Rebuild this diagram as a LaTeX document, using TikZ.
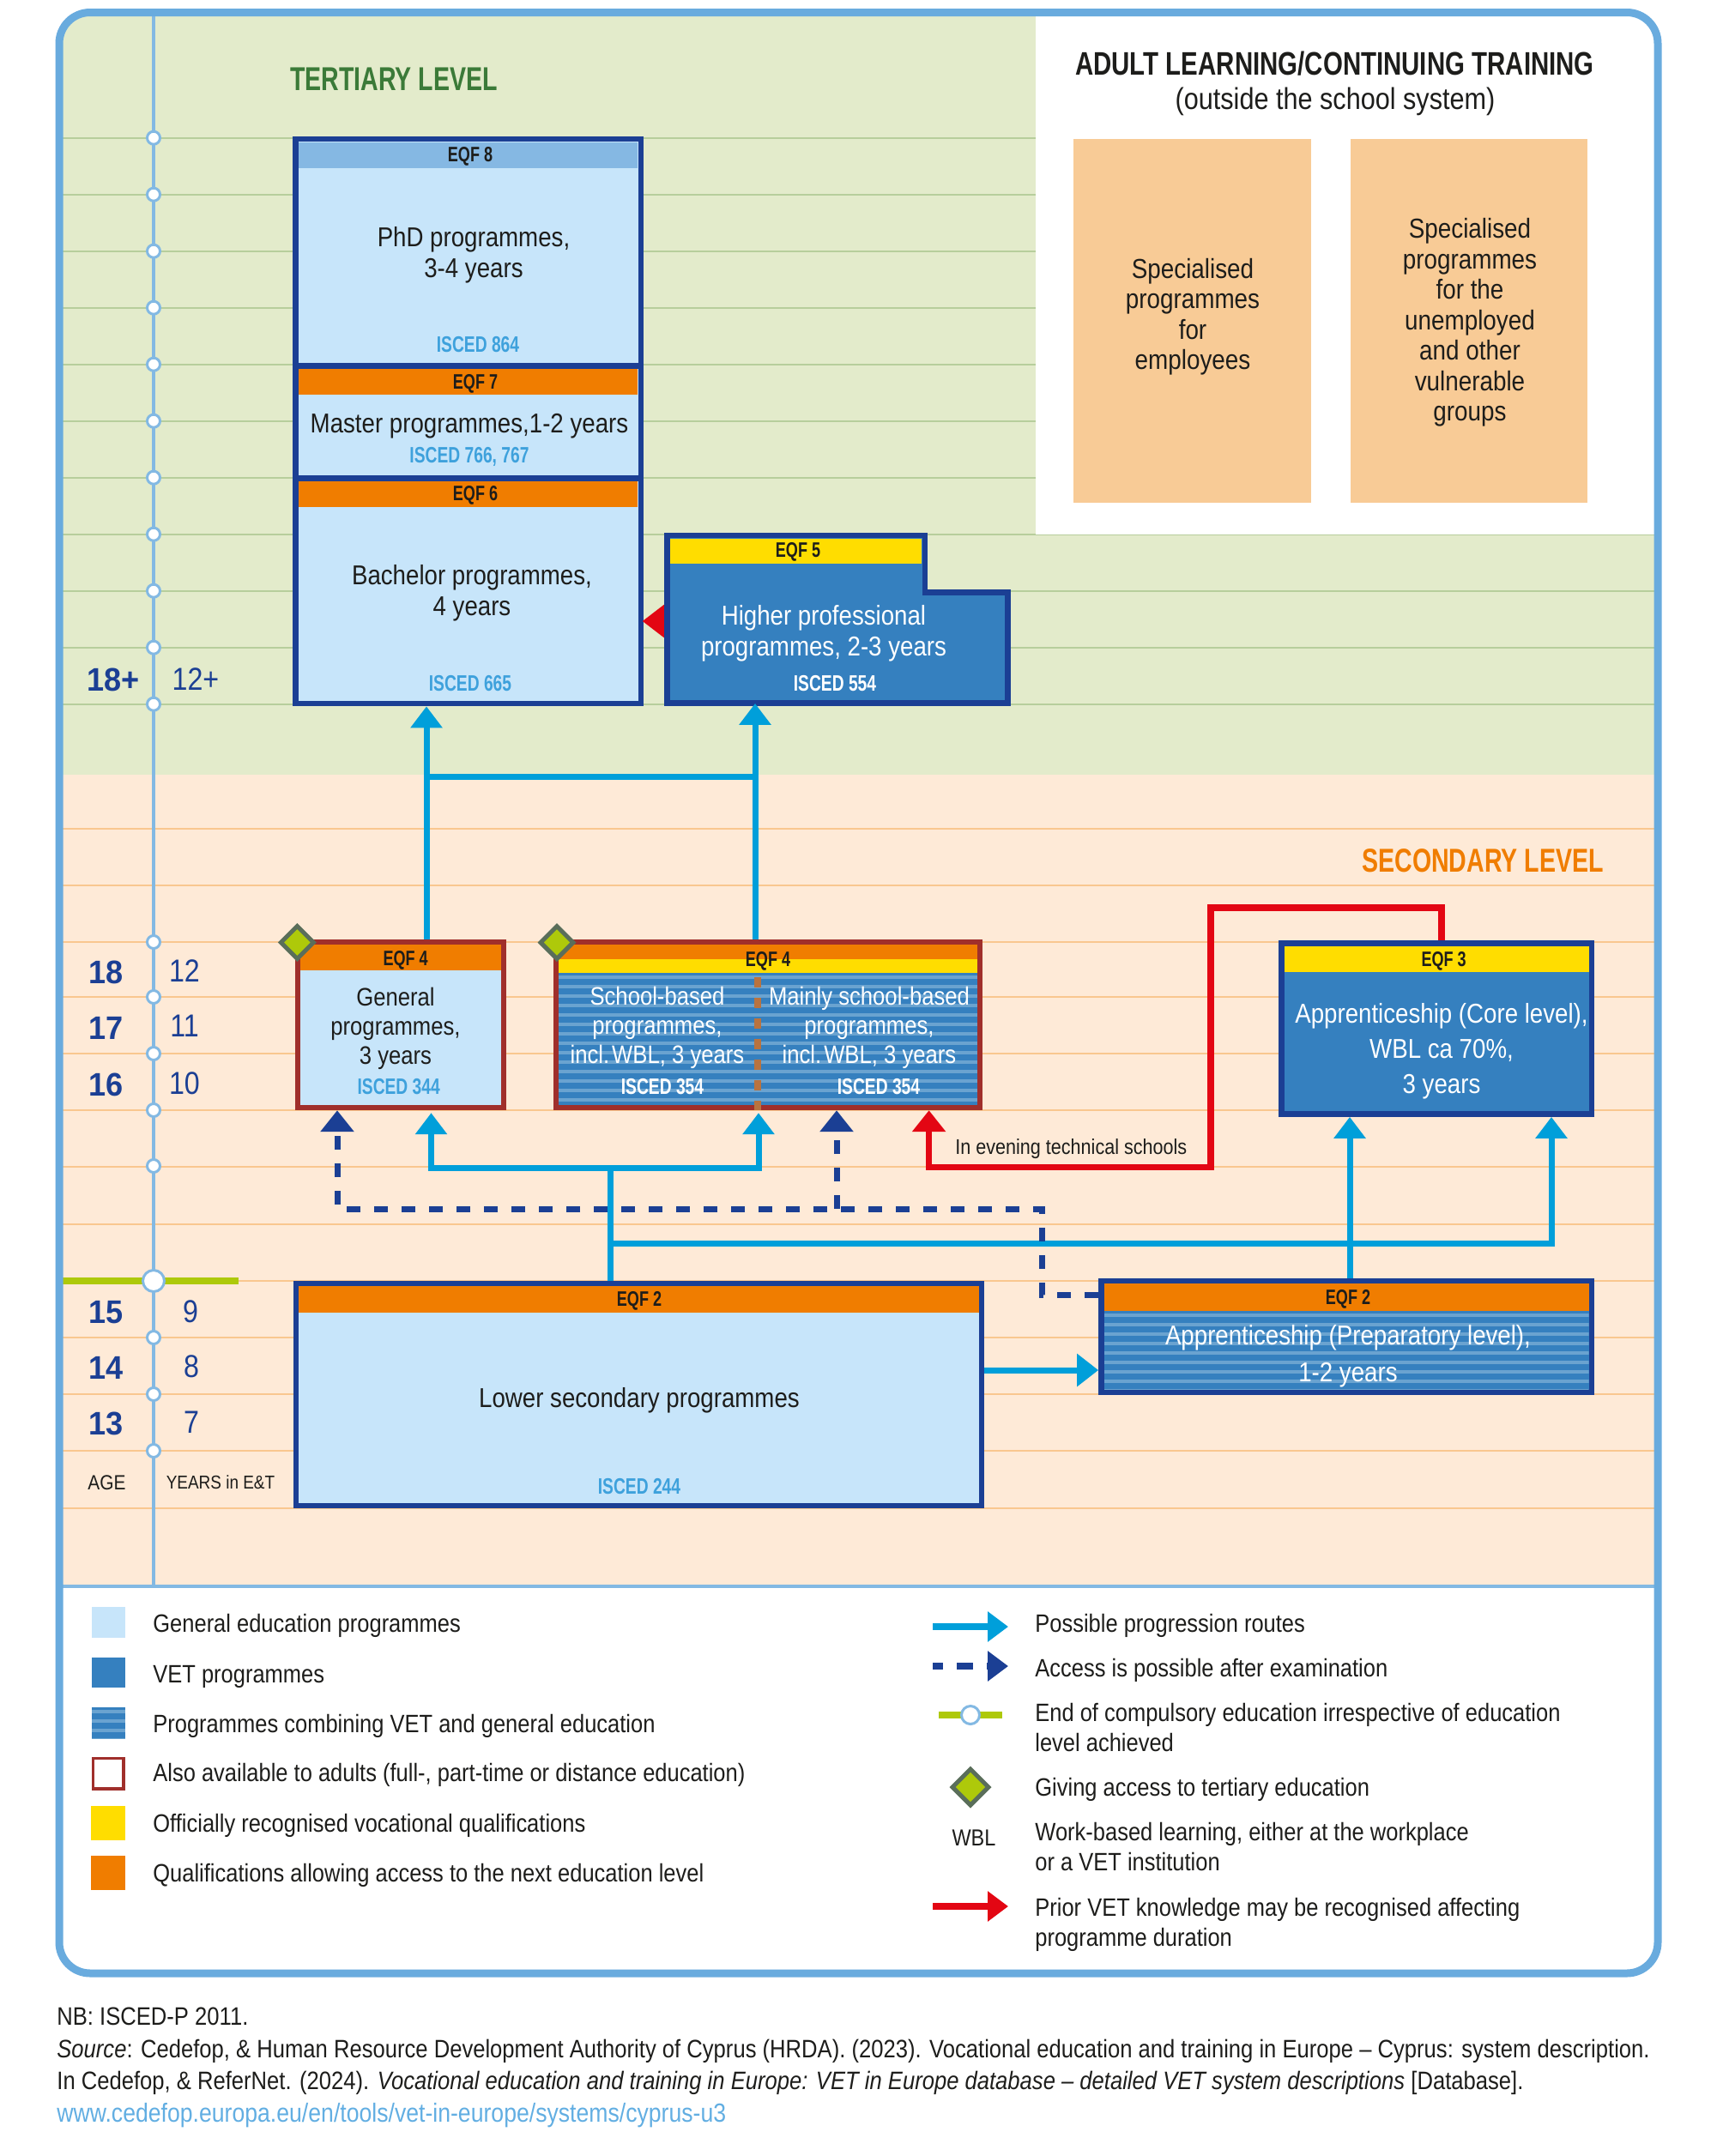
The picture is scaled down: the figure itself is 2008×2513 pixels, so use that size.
\documentclass[tikz,border=0pt]{standalone}
\usepackage{fontspec}
\setmainfont{Liberation Sans}[FakeStretch=0.87,BoldFeatures={FakeStretch=0.74},ItalicFeatures={FakeStretch=0.87}]
\newfontfamily\agefont{Liberation Sans}[FakeStretch=0.95,BoldFeatures={FakeStretch=0.95}]
\newfontfamily\titlefont{Liberation Sans}[FakeStretch=0.775,BoldFeatures={FakeStretch=0.775}]
\usetikzlibrary{arrows.meta,shapes.geometric,calc}
\definecolor{framec}{HTML}{69ABDE}
\definecolor{timec}{HTML}{83B9E3}
\definecolor{greenbg}{HTML}{E3EBCB}
\definecolor{orangebg}{HTML}{FEEAD7}
\definecolor{greenln}{HTML}{B7CE9C}
\definecolor{orangeln}{HTML}{F9C78F}
\definecolor{genc}{HTML}{C7E5FA}
\definecolor{vetc}{HTML}{3580BF}
\definecolor{stripec}{HTML}{6AA3D0}
\definecolor{navy}{HTML}{1B3F94}
\definecolor{yellowc}{HTML}{FFDD00}
\definecolor{orangec}{HTML}{F07D00}
\definecolor{eqfeight}{HTML}{85B8E3}
\definecolor{brownc}{HTML}{A02F2B}
\definecolor{iscedc}{HTML}{3EA1DC}
\definecolor{ink}{HTML}{1D1D1B}
\definecolor{routec}{HTML}{009FDA}
\definecolor{redc}{HTML}{E30613}
\definecolor{limec}{HTML}{AEC90A}
\definecolor{dgreen}{HTML}{5A6E5A}
\definecolor{adultc}{HTML}{F8CB96}
\definecolor{tertc}{HTML}{3B7A38}
\definecolor{linkc}{HTML}{62AEE2}
\definecolor{dashbr}{HTML}{B9733F}
\tikzset{
  x=0.5pt,y=-0.5pt,
  navybox/.style={draw=navy,line width=3.4pt,fill=genc},
  navyvet/.style={draw=navy,line width=3.4pt,fill=vetc},
  brownbox/.style={draw=brownc,line width=3.2pt,fill=genc},
  brownvet/.style={draw=brownc,line width=3.2pt,fill=vetc},
  hidden/.style={},
  mainT/.style={font=\fontsize{15.9}{18}\selectfont,text=ink,align=center,inner sep=0pt},
  whiteT/.style={font=\fontsize{15.9}{18}\selectfont,text=white,align=center,inner sep=0pt},
  schoolT/.style={font=\fontsize{14.75}{17}\selectfont,text=white,align=center,inner sep=0pt},
  genT/.style={font=\fontsize{14.75}{17}\selectfont,text=ink,align=center,inner sep=0pt},
  eqfT/.style={font=\fontsize{12.2}{14}\selectfont\bfseries,text=ink,inner sep=0pt},
  iscedT/.style={font=\fontsize{13}{14}\selectfont\bfseries,text=iscedc,inner sep=0pt},
  iscedW/.style={font=\fontsize{13}{14}\selectfont\bfseries,text=white,inner sep=0pt},
  levelT/.style={font=\fontsize{19.3}{22}\selectfont\bfseries,inner sep=0pt},
  ageT/.style={font=\fontsize{19}{22}\agefont\selectfont\bfseries,text=navy,inner sep=0pt},
  yearT/.style={font=\fontsize{18.5}{22}\selectfont,text=navy,inner sep=0pt},
  legT/.style={font=\fontsize{14.65}{16}\selectfont,text=ink,inner sep=0pt,anchor=base west},
  footT/.style={font=\fontsize{14.72}{17}\selectfont,text=ink,inner sep=0pt,anchor=base west},
  tick/.style={circle,draw=timec,fill=white,line width=1.5pt,minimum size=7.5pt,inner sep=0pt},
  gem/.style={diamond,draw=dgreen,fill=limec,line width=2.5pt,inner sep=0pt,minimum width=20pt,minimum height=20pt,aspect=1},
  route/.style={draw=routec,line width=3.5pt,-{Triangle[length=12.5pt,width=18pt]}},
  routeplain/.style={draw=routec,line width=3.5pt},
  examr/.style={draw=navy,line width=3.5pt,dash pattern=on 8pt off 8pt,-{Triangle[length=12.5pt,width=19pt]}},
  redr/.style={draw=redc,line width=3.8pt,-{Triangle[length=12.5pt,width=19pt]}},
}
\newcommand\bx[6]{%
  \pgfmathsetmacro\cxx{(#2+#4)/2}\pgfmathsetmacro\cyy{(#3+#5)/2}%
  \pgfmathsetmacro\www{(#4-#2)/2}\pgfmathsetmacro\hhh{(#5-#3)/2}%
  \node[#6,minimum width=\www pt,minimum height=\hhh pt,inner sep=0pt] (#1) at (\cxx,\cyy) {};}
\newcommand\stripes[4]{%
  \begin{scope}
    \clip (#1,#2) rectangle (#3,#4);
    \foreach \yy in {0,11,...,220} {\fill[stripec] (#1,#2+\yy+3) rectangle (#3,#2+\yy+7);}
  \end{scope}}
\begin{document}
\begin{tikzpicture}
\useasboundingbox (0,0) rectangle (2008,2513);
% ---------- background panels
\begin{scope}
  \clip[rounded corners=18pt] (69,14.5) rectangle (1932,2300);
  \fill[greenbg] (69,14.5) rectangle (1932,903);
  \fill[orangebg] (69,903) rectangle (1932,1849);
  \fill[white] (69,1849) rectangle (1932,2300);
  \foreach \yy in {160.7,226.7,292.7,358.7,424.7,490.7,556.7,622.7,688.7,754.7,820.7}
    \draw[greenln,line width=1pt] (69,\yy) -- (1932,\yy);
  \foreach \yy in {966,1032,1098,1162,1228,1294,1360,1427,1493,1559,1625,1691,1758}
    \draw[orangeln,line width=1pt] (69,\yy) -- (1932,\yy);
  \fill[white] (1207,10) rectangle (1932,623);
  \draw[timec,line width=2pt] (179,14.5) -- (179,1849);
  \draw[limec,line width=4pt] (69,1493) -- (278,1493);
\end{scope}
\foreach \yy [count=\i] in {160.7,226.7,292.7,358.7,424.7,490.7,556.7,622.7,688.7,754.7,820.7,1098,1162,1228,1294,1359,1559,1625,1691}
  \node[tick] (tick\i) at (179,\yy) {};
\node[tick,minimum size=12.5pt] (tickbig) at (179,1493) {};
\draw[draw=timec,line width=2.2pt] (69,1849) -- (1932,1849);
\draw[framec,line width=4.5pt,rounded corners=18pt] (69,14.5) rectangle (1932,2300);
% ---------- adult box
\node[font=\fontsize{19}{22}\titlefont\selectfont\bfseries,text=ink,inner sep=0pt] (adult) at (1555.5,74) {ADULT LEARNING/CONTINUING TRAINING};
\node[font=\fontsize{17.6}{19}\selectfont,text=ink,inner sep=0pt] (adultsub) at (1556,118) {(outside the school system)};
\bx{emp}{1251}{161.6}{1528}{586}{fill=adultc}
\bx{unemp}{1574}{161.6}{1850}{586}{fill=adultc}
\node[font=\fontsize{16}{17.75}\selectfont,text=ink,align=center,inner sep=0pt] (emptxt) at (1390,369) {Specialised\\programmes\\for\\employees};
\node[font=\fontsize{16}{17.75}\selectfont,text=ink,align=center,inner sep=0pt] (unemptxt) at (1713,376) {Specialised\\programmes\\for the\\unemployed\\and other\\vulnerable\\groups};
% ---------- level labels
\node[levelT,text=tertc] (tert) at (459,92.6) {TERTIARY LEVEL};
\node[levelT,text=orangec] (sec) at (1728,1003.5) {SECONDARY LEVEL};
% ---------- ages
\node[ageT] (a18p) at (132,792) {18+};
\node[yearT] (y12p) at (228,792) {12+};
\node[ageT] (a18) at (124,1133) {18};
\node[ageT] (a17) at (124,1198) {17};
\node[ageT] (a16) at (124,1264) {16};
\node[ageT] (a15) at (124,1530) {15};
\node[ageT] (a14) at (124,1594) {14};
\node[ageT] (a13) at (124,1659) {13};
\node[yearT] (y12) at (215,1132) {12};
\node[yearT] (y11) at (215,1196) {11};
\node[yearT] (y10) at (215,1263) {10};
\node[yearT] (y9) at (222,1529) {9};
\node[yearT] (y8) at (223,1593) {8};
\node[yearT] (y7) at (223,1658) {7};
\node[font=\fontsize{12}{14}\selectfont,text=ink,inner sep=0pt] (agelab) at (124.5,1728) {AGE};
\node[font=\fontsize{10.9}{14}\selectfont,text=ink,inner sep=0pt] (yearlab) at (257,1728) {YEARS in E\&T};
% ---------- tertiary stack
\bx{phd}{344.5}{162}{747}{426.5}{navybox}
\bx{master}{344.5}{426.5}{747}{557.5}{navybox}
\bx{bachelor}{344.5}{557.5}{747}{820}{navybox}
\fill[eqfeight] (348.2,165.7) rectangle (743.3,196);
\fill[orangec] (348.2,430.2) rectangle (743.3,460);
\fill[orangec] (348.2,561.2) rectangle (743.3,591);
\node[eqfT] (eqf8) at (548,182.5) {EQF 8};
\node[mainT] (phdt) at (552,297) {PhD programmes,\\3-4 years};
\node[iscedT] (is864) at (557,402) {ISCED 864};
\node[eqfT] (eqf7) at (554,447.5) {EQF 7};
\node[mainT] (mastert) at (547,497) {Master programmes,1-2 years};
\node[iscedT] (is766) at (547,532) {ISCED 766, 767};
\node[eqfT] (eqf6) at (554,577.5) {EQF 6};
\node[mainT] (bacht) at (550,691) {Bachelor programmes,\\4 years};
\node[iscedT] (is665) at (548,797) {ISCED 665};
% ---------- EQF5
\bx{higher}{777.5}{624}{1174.5}{819.5}{hidden}
\coordinate (rr) at (0,724);
\draw[draw=redc,line width=1pt,-{Triangle[length=12.5pt,width=19pt]},shorten >=-0.8pt] (higher.center |- rr) -- (bachelor.east |- rr);
\filldraw[draw=navy,fill=vetc,line width=3.4pt] (777.5,624) -- (1078,624) -- (1078,690.5) -- (1174.5,690.5) -- (1174.5,819.5) -- (777.5,819.5) -- cycle;
\fill[yellowc] (781.2,627.7) rectangle (1074.3,657);
\node[eqfT] (eqf5) at (930,643) {EQF 5};
\node[whiteT] (hight) at (960,738.5) {Higher professional\\programmes, 2-3 years};
\node[iscedW] (is554) at (973,797) {ISCED 554};
% ---------- General
\bx{general}{347}{1098}{587}{1291}{brownbox}
\fill[orangec] (350.2,1101.2) rectangle (583.8,1131);
\node[eqfT] (eqf4a) at (472.7,1119) {EQF 4};
\node[genT] (gent) at (461,1199) {General\\programmes,\\3 years};
\node[iscedT] (is344) at (464.7,1267) {ISCED 344};
% ---------- School
\bx{school}{648}{1098}{1142}{1291}{brownvet}
\stripes{651.2}{1134}{1138.8}{1287.8}
\fill[orangec] (651.2,1101.2) rectangle (1138.8,1118);
\fill[yellowc] (651.2,1118) rectangle (1138.8,1134);
\draw[dashbr,line width=4pt,dash pattern=on 6pt off 6pt] (882.6,1139) -- (882.6,1294);
\node[eqfT] (eqf4b) at (895,1120) {EQF 4};
\node[schoolT] (schoolt) at (766,1198) {School-based\\programmes,\\incl.\hspace{0.1em}WBL, 3 years};
\node[iscedW] (is354a) at (772,1267) {ISCED 354};
\node[schoolT] (mainlyt) at (1013,1198) {Mainly school-based\\programmes,\\incl.\hspace{0.1em}WBL, 3 years};
\node[iscedW] (is354b) at (1024,1267) {ISCED 354};
\node[gem] (gema) at (346.4,1098.5) {};
\node[gem] (gemb) at (649,1098.5) {};
% ---------- Core apprenticeship
\bx{core}{1493.5}{1099.5}{1855}{1298.5}{navyvet}
\fill[yellowc] (1496.9,1103) rectangle (1851.6,1133);
\node[eqfT] (eqf3) at (1682.6,1120) {EQF 3};
\node[whiteT,font=\fontsize{15.9}{20.5}\selectfont] (coret) at (1680,1225) {Apprenticeship (Core level),\\WBL ca 70\%,\\3 years};
% ---------- Lower secondary
\bx{lower}{345}{1496}{1144}{1755}{navybox}
\fill[orangec] (348.4,1499.4) rectangle (1140.6,1529.6);
\node[eqfT] (eqf2a) at (745,1516) {EQF 2};
\node[mainT] (lowert) at (745,1632) {Lower secondary programmes};
\node[iscedT] (is244) at (745,1733) {ISCED 244};
% ---------- Preparatory apprenticeship
\bx{prep}{1283.5}{1493}{1855}{1622.5}{navyvet}
\stripes{1286.9}{1527.6}{1851.6}{1619.1}
\fill[orangec] (1286.9,1496.4) rectangle (1851.6,1527.6);
\node[eqfT] (eqf2b) at (1571,1514) {EQF 2};
\node[whiteT,font=\fontsize{15.9}{21.5}\selectfont] (prept) at (1571,1581) {Apprenticeship (Preparatory level),\\1-2 years};
% ---------- connectors
\coordinate (v1) at (497,905);
\coordinate (v2) at (880,905);
\draw[route] (general.north -| v1) -- (bachelor.south -| v1);
\draw[route] (school.north -| v2) -- (higher.south -| v2);
\draw[routeplain] (v1) -- (v2);
\coordinate (b1) at (711,1361);
\coordinate (b2) at (711,1449.5);
\draw[routeplain] (lower.north -| b1) -- (b1);
\coordinate (g1) at (502.5,1361);
\coordinate (s1) at (884,1361);
\draw[route,shorten >=1.5pt] (b1) -- (g1) -- (general.south -| g1);
\draw[route,shorten >=1.5pt] (b1) -- (s1) -- (school.south -| s1);
\coordinate (c1) at (1808,1449.5);
\coordinate (c2) at (1573,1449.5);
\draw[route] (b2) -- (c1) -- (core.south -| c1);
\draw[route] (prep.north -| c2) -- (core.south -| c2);
\coordinate (lp) at (0,1597);
\draw[route,-{Triangle[length=12.5pt,width=18.5pt]}] (lower.east |- lp) -- (prep.west |- lp);
\coordinate (d0) at (1214,1509);
\coordinate (d1) at (1214,1409);
\coordinate (d2) at (393,1409);
\coordinate (d3) at (975,1409);
\draw[examr] (prep.west |- d0) -- (d0) -- (d1) -- (d2) -- (general.south -| d2);
\draw[examr] (d3) -- (school.south -| d3);
\coordinate (e0) at (1680,1057.7);
\coordinate (e1) at (1411,1057.7);
\coordinate (e2) at (1411,1360.4);
\coordinate (e3) at (1082.6,1360.4);
\draw[redr] (core.north -| e0) -- (e0) -- (e1) -- (e2) -- (e3) -- (school.south -| e3);
\node[font=\fontsize{12.4}{14}\selectfont,text=ink,inner sep=0pt,anchor=west] (evening) at (1113,1339) {In evening technical schools};
% ---------- legend left
\bx{l1}{107}{1873}{146}{1909}{fill=genc}
\bx{l2}{107}{1932}{146}{1967}{fill=vetc}
\bx{l3}{107}{1990}{146}{2026}{fill=vetc}
\stripes{107}{1990}{146}{2026}
\bx{l4}{108.5}{2049.5}{144}{2085}{draw=brownc,line width=1.6pt,fill=white}
\bx{l5}{106}{2105}{146}{2145}{fill=yellowc}
\bx{l6}{106}{2163}{146}{2203}{fill=orangec}
\node[legT] (lt1) at (178,1902) {General education programmes};
\node[legT] (lt2) at (178,1961) {VET programmes};
\node[legT] (lt3) at (178,2019) {Programmes combining VET and general education};
\node[legT] (lt4) at (178,2076) {Also available to adults (full-, part-time or distance education)};
\node[legT] (lt5) at (178,2135) {Officially recognised vocational qualifications};
\node[legT] (lt6) at (178,2193) {Qualifications allowing access to the next education level};
% ---------- legend right
\coordinate (k1a) at (1087,1896); \coordinate (k1b) at (1175,1896);
\draw[draw=routec,line width=4pt,-{Triangle[length=12pt,width=17pt]}] (k1a) -- (k1b);
\coordinate (k2a) at (1087,1942); \coordinate (k2b) at (1175,1942);
\draw[draw=navy,line width=4pt,dash pattern=on 6pt off 8pt on 9.5pt off 8pt on 6pt off 0pt,-{Triangle[length=12pt,width=17pt]}] (k2a) -- (k2b);
\coordinate (k3a) at (1094,1999); \coordinate (k3b) at (1168,1999);
\draw[limec,line width=4pt] (k3a) -- (k3b);
\node[tick,minimum size=10.5pt] (k3c) at (1131,1999) {};
\node[gem,minimum width=22pt,minimum height=22pt] (k4) at (1131,2083) {};
\node[font=\fontsize{13.5}{16}\selectfont,text=ink,inner sep=0pt,anchor=base] (k5) at (1135,2151) {WBL};
\coordinate (k6a) at (1087,2222); \coordinate (k6b) at (1175,2222);
\draw[draw=redc,line width=4pt,-{Triangle[length=12pt,width=17pt]}] (k6a) -- (k6b);
\node[legT] (rt1) at (1206,1902) {Possible progression routes};
\node[legT] (rt2) at (1206,1954) {Access is possible after examination};
\node[legT] (rt3) at (1206,2006) {End of compulsory education irrespective of education};
\node[legT] (rt3b) at (1206,2041) {level achieved};
\node[legT] (rt4) at (1206,2093) {Giving access to tertiary education};
\node[legT] (rt5) at (1206,2145) {Work-based learning, either at the workplace};
\node[legT] (rt5b) at (1206,2180) {or a VET institution};
\node[legT] (rt6) at (1206,2233) {Prior VET knowledge may be recognised affecting};
\node[legT] (rt6b) at (1206,2268) {programme duration};
% ---------- footer
\node[footT] (f1) at (66,2360.7) {NB: ISCED-P 2011.};
\node[footT] (f2) at (66,2398) {\textit{Source}: Cedefop, \& Human Resource Development Authority of Cyprus (HRDA). (2023). Vocational education and training in Europe – Cyprus: system description.};
\node[footT] (f3) at (66,2435.7) {In Cedefop, \& ReferNet. (2024). \textit{Vocational education and training in Europe: VET in Europe database – detailed VET system descriptions} [Database].};
\node[footT,text=linkc,font=\fontsize{15.3}{17}\selectfont] (f4) at (66,2473) {www.cedefop.europa.eu/en/tools/vet-in-europe/systems/cyprus-u3};
\end{tikzpicture}
\end{document}
